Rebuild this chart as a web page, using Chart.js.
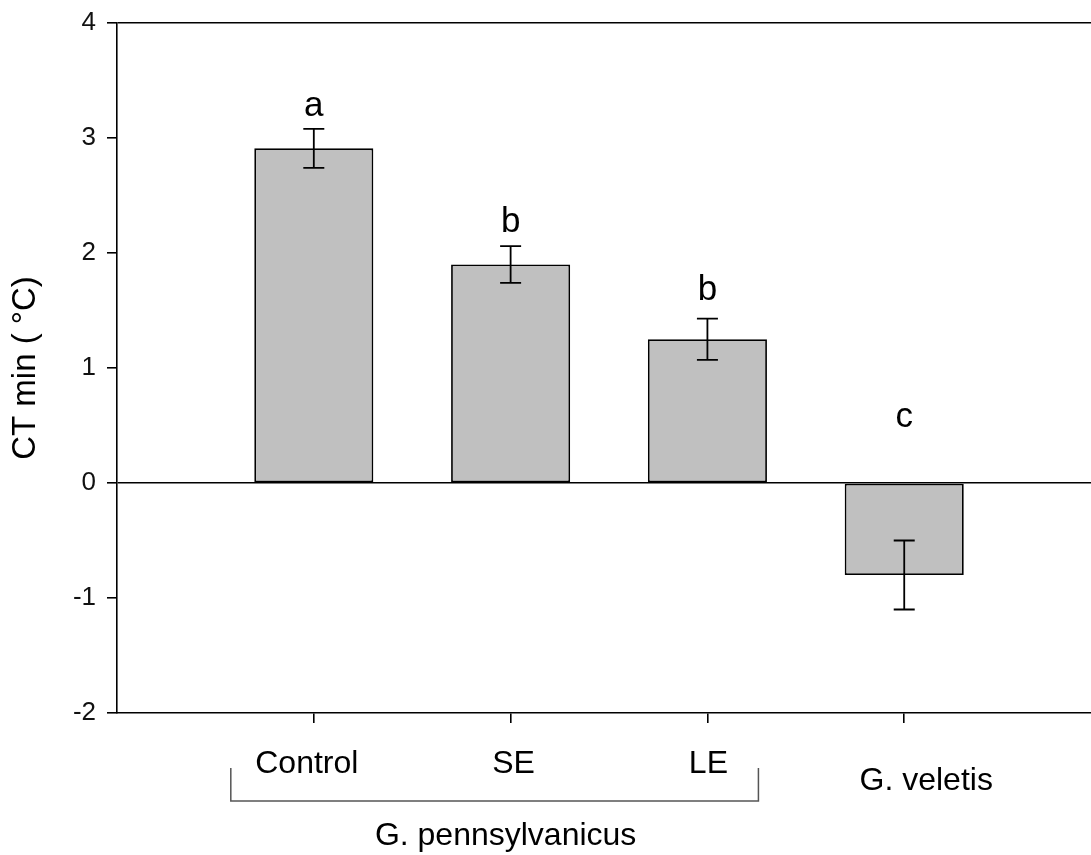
<!DOCTYPE html>
<html>
<head>
<meta charset="utf-8">
<script src="https://cdn.jsdelivr.net/npm/chart.js@4/dist/chart.umd.min.js"></script>
<style>
  html, body { margin: 0; padding: 0; background: #fff; }
  #wrap { width: 1091px; height: 855px; position: relative; }
</style>
</head>
<body>
<div id="wrap"><canvas id="chart"></canvas></div>
<script>
// Treatment groups and their positions along the x axis
const groups = ['Control', 'SE', 'LE', 'G. veletis'];
const positions = [1, 2, 3, 4];
// Mean CTmin (°C) and standard error per group
const ctMin = [2.91, 1.90, 1.25, -0.80];
const sem = [0.17, 0.16, 0.18, 0.30];
// Significance letters and the value level each one sits at
const letters = ['a', 'b', 'b', 'c'];
const letterAt = [3.19, 2.18, 1.59, 0.49];
// Y axis ticks
const yTicks = [-2, -1, 0, 1, 2, 3, 4];
// Species bracket beneath the first three groups
const bracketGroup = 'G. pennsylvanicus';

const FONT = '"Liberation Sans", Arial, Helvetica, sans-serif';
Chart.defaults.font.family = FONT;
Chart.defaults.color = '#000';

const AXIS_W = 1.6;

// Error bars, letters, group labels and the species bracket
const annotate = {
  id: 'annotate',
  afterDatasetsDraw(chart, args, opts) {
    const { ctx, scales: { x, y } } = chart;
    ctx.save();
    ctx.strokeStyle = '#000';
    ctx.lineWidth = opts.errWidth;
    positions.forEach((p, i) => {
      const px = x.getPixelForValue(p);
      const hi = y.getPixelForValue(ctMin[i] + sem[i]);
      const lo = y.getPixelForValue(ctMin[i] - sem[i]);
      const c = opts.capHalf;
      ctx.beginPath();
      ctx.moveTo(px, hi); ctx.lineTo(px, lo);
      ctx.moveTo(px - c, hi); ctx.lineTo(px + c, hi);
      ctx.moveTo(px - c, lo); ctx.lineTo(px + c, lo);
      ctx.stroke();
    });
    ctx.fillStyle = '#000';
    ctx.textAlign = 'center';
    ctx.textBaseline = 'alphabetic';
    ctx.font = opts.letterSize + 'px ' + FONT;
    letters.forEach((t, i) => {
      ctx.fillText(t, x.getPixelForValue(positions[i]), y.getPixelForValue(letterAt[i]));
    });
    ctx.restore();
  },
  afterDraw(chart, args, opts) {
    const { ctx, chartArea, scales: { x } } = chart;
    const base = chartArea.bottom;
    ctx.save();
    ctx.fillStyle = '#000';
    ctx.textAlign = 'center';
    ctx.textBaseline = 'alphabetic';
    ctx.font = opts.labelSize + 'px ' + FONT;
    groups.forEach((g, i) => {
      const off = opts.labelOffsets[i];
      ctx.fillText(g, x.getPixelForValue(positions[i]) + off[0], base + off[1]);
    });
    // bracket grouping the first three treatments
    const bl = x.getPixelForValue(positions[0]) + opts.bracket.left;
    const br = x.getPixelForValue(positions[2]) + opts.bracket.right;
    const bt = base + opts.bracket.top;
    const bb = base + opts.bracket.bottom;
    ctx.strokeStyle = '#555';
    ctx.lineWidth = 1.5;
    ctx.beginPath();
    ctx.moveTo(bl, bt); ctx.lineTo(bl, bb); ctx.lineTo(br, bb); ctx.lineTo(br, bt);
    ctx.stroke();
    ctx.fillText(bracketGroup, x.getPixelForValue(positions[1]) + opts.groupLabel[0], base + opts.groupLabel[1]);
    ctx.restore();
  }
};

new Chart(document.getElementById('chart'), {
  type: 'bar',
  data: {
    datasets: [{
      data: positions.map((p, i) => ({ x: p, y: ctMin[i] })),
      backgroundColor: '#c0c0c0',
      borderColor: '#000',
      borderWidth: 1.8,
      borderSkipped: false,
      categoryPercentage: 1,
      barPercentage: 0.605
    }]
  },
  options: {
    responsive: true,
    maintainAspectRatio: false,
    animation: false,
    layout: { padding: { top: 23, left: 0, right: 0, bottom: 0 } },
    plugins: {
      legend: { display: false },
      tooltip: { enabled: false },
      annotate: {
        errWidth: 1.8,
        capHalf: 10.5,
        letterSize: 35,
        labelSize: 32,
        labelOffsets: [[-7, 60], [3, 60], [1, 60], [22, 77]],
        bracket: { left: -83, right: 51, top: 55, bottom: 88 },
        groupLabel: [-5, 132]
      }
    },
    scales: {
      x: {
        type: 'linear',
        offset: false,
        min: 0,
        max: 4.949,
        afterBuildTicks: (scale) => { scale.ticks = positions.map(v => ({ value: v })); },
        afterFit: (scale) => { scale.height = 142; },
        ticks: { display: false },
        grid: {
          offset: false,
          drawOnChartArea: false,
          color: '#000',
          tickColor: '#000',
          tickLength: 10,
          lineWidth: AXIS_W
        },
        border: { display: true, color: '#000', width: AXIS_W }
      },
      y: {
        min: -2,
        max: 4,
        afterBuildTicks: (scale) => { scale.ticks = yTicks.map(v => ({ value: v })); },
        afterFit: (scale) => { scale.width = 117; },
        ticks: {
          font: { size: 26, lineHeight: 0.8 },
          color: '#111',
          padding: 11,
          callback: (v) => String(v)
        },
        grid: {
          color: (c) => (c.tick && (c.tick.value === 0 || c.tick.value === 4)) ? '#000' : 'rgba(0,0,0,0)',
          tickColor: '#000',
          tickLength: 10,
          lineWidth: AXIS_W
        },
        border: { display: true, color: '#000', width: AXIS_W },
        title: {
          display: true,
          text: 'CT min ( °C)',
          font: { size: 33 },
          color: '#000',
          padding: { top: 6, bottom: 0 }
        }
      }
    }
  },
  plugins: [annotate]
});
</script>
</body>
</html>
